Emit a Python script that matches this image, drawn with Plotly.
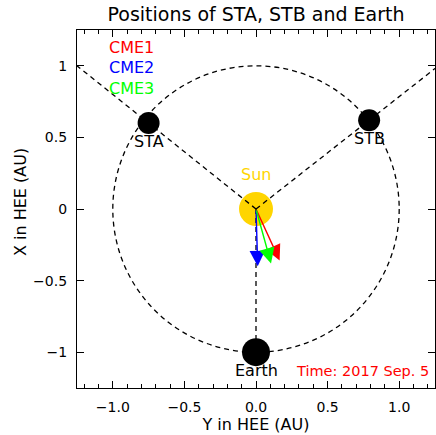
import plotly.graph_objects as go

# ---- data ----
sc_names = ["STA", "STB", "Earth"]
sc_y_hee = [-0.75, 0.79, 0.0]     # horizontal axis (Y in HEE)
sc_x_hee = [0.60, 0.62, -1.0]     # vertical axis (X in HEE)
sc_sizes = [22, 22, 28]
sc_extend = [1.8, 1.8, 1.0]       # how far the radial dashed line is drawn (in units of position)

cme_names = ["CME1", "CME2", "CME3"]
cme_colors = ["#FF0000", "#0000FF", "#00FF00"]
cme_tip_y = [0.165, 0.012, 0.105]
cme_tip_x = [-0.36, -0.40, -0.38]

time_text = "Time: 2017 Sep. 5"
title_text = "Positions of STA, STB and Earth"
x_ticks = [-1.0, -0.5, 0.0, 0.5, 1.0]
x_tick_labels = ["\u22121.0", "\u22120.5", "0.0", "0.5", "1.0"]
y_ticks = [-1.0, -0.5, 0.0, 0.5, 1.0]
y_tick_labels = ["\u22121", "\u22120.5", "0", "0.5", "1"]

FONT = "DejaVu Sans"

fig = go.Figure()

# Sun
fig.add_trace(go.Scatter(x=[0], y=[0], mode="markers",
                         marker=dict(size=34, color="#FFD500", opacity=1, line=dict(width=0)),
                         hoverinfo="skip", showlegend=False))

# radial dashed lines
for yy, xx, f in zip(sc_y_hee, sc_x_hee, sc_extend):
    fig.add_trace(go.Scatter(x=[0, yy * f], y=[0, xx * f], mode="lines",
                             line=dict(color="black", width=1.3, dash="5px,4px"),
                             hoverinfo="skip", showlegend=False))

# spacecraft / Earth markers
fig.add_trace(go.Scatter(x=sc_y_hee, y=sc_x_hee, mode="markers",
                         marker=dict(size=sc_sizes, color="black", opacity=1, line=dict(width=0)),
                         hoverinfo="skip", showlegend=False))

annotations = []
# CME arrows
for ty, tx, c in zip(cme_tip_y, cme_tip_x, cme_colors):
    annotations.append(dict(x=ty, y=tx, ax=0, ay=0, xref="x", yref="y", axref="x", ayref="y",
                            showarrow=True, arrowhead=2, arrowsize=2.2, arrowwidth=1.4,
                            arrowcolor=c, text=""))

# spacecraft labels
for name, yy, xx in zip(sc_names, sc_y_hee, sc_x_hee):
    annotations.append(dict(x=yy, y=xx, xref="x", yref="y", text=name, showarrow=False,
                            yshift=-18, font=dict(family=FONT, size=16, color="black")))
annotations.append(dict(x=0, y=0, xref="x", yref="y", text="Sun", showarrow=False,
                        yshift=35, font=dict(family=FONT, size=16, color="#FFD500")))

# CME legend texts
for i, (name, c) in enumerate(zip(cme_names, cme_colors)):
    annotations.append(dict(x=-1.038, y=1.13 - i * 0.143, xref="x", yref="y", text=name,
                            showarrow=False, xanchor="left",
                            font=dict(family=FONT, size=16, color=c)))

# time label
annotations.append(dict(x=1.223, y=-1.13, xref="x", yref="y", text=time_text, showarrow=False,
                        xanchor="right", font=dict(family=FONT, size=14.5, color="#FF0000")))

# y axis title
annotations.append(dict(x=-0.156, y=0.52, xref="paper", yref="paper", text="X in HEE (AU)",
                        showarrow=False, textangle=-90, xanchor="center", yanchor="middle",
                        font=dict(family=FONT, size=16, color="black")))

fig.update_layout(
    width=436, height=435,
    margin=dict(l=77, r=1, t=30, b=47, autoexpand=False),
    paper_bgcolor="white", plot_bgcolor="white",
    font=dict(family=FONT, size=14, color="black"),
    title=dict(text=title_text, x=0.5, xref="paper", y=1 - 14 / 435, yref="container",
               yanchor="middle", xanchor="center", font=dict(family=FONT, size=19, color="black")),
    shapes=[dict(type="circle", xref="x", yref="y", x0=-1, y0=-1, x1=1, y1=1,
                 line=dict(color="black", width=1.3, dash="5px,4px"), layer="below")],
    annotations=annotations,
    showlegend=False,
)

fig.update_xaxes(range=[-1.25, 1.25], showgrid=False, zeroline=False, automargin=False,
                 showline=True, linecolor="black", linewidth=1.2, mirror="ticks",
                 ticks="inside", ticklen=7, tickcolor="black", tickwidth=1,
                 tickvals=x_ticks, ticktext=x_tick_labels, tickfont=dict(family=FONT, size=14),
                 ticklabelstandoff=6,
                 minor=dict(dtick=0.1, ticks="inside", ticklen=4, tickcolor="black", tickwidth=1),
                 title=dict(text="Y in HEE (AU)", font=dict(family=FONT, size=16), standoff=4))
fig.update_yaxes(range=[-1.25, 1.25], showgrid=False, zeroline=False, automargin=False,
                 showline=True, linecolor="black", linewidth=1.2, mirror="ticks",
                 ticks="inside", ticklen=7, tickcolor="black", tickwidth=1,
                 tickvals=y_ticks, ticktext=y_tick_labels, tickfont=dict(family=FONT, size=14),
                 ticklabelstandoff=6)

fig.write_html("out.html", config={"displayModeBar": False},
               post_script="document.body.style.margin='0';document.body.style.overflow='hidden';")
